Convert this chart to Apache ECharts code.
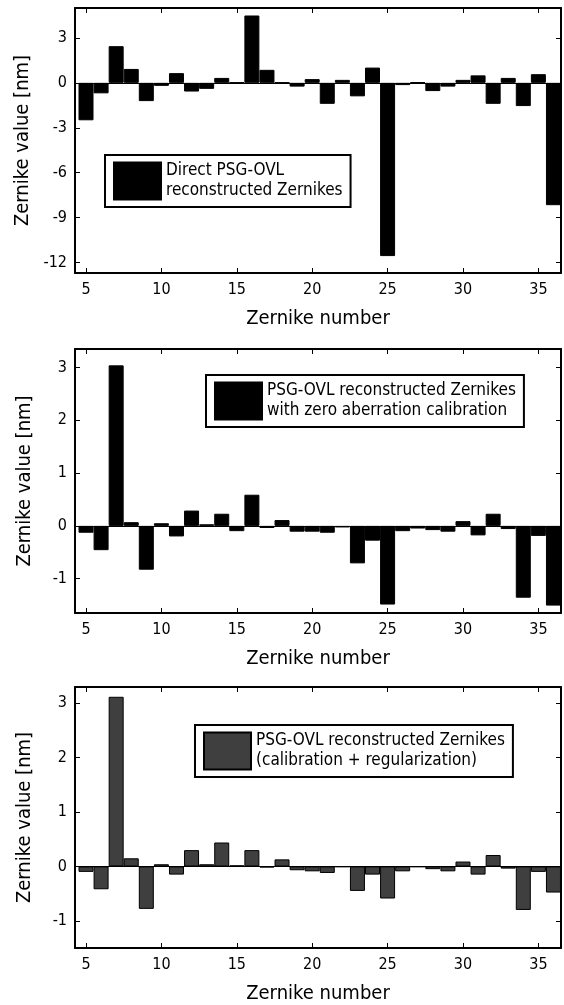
<!DOCTYPE html>
<html>
<head>
	<meta charset="utf-8">
	<script src="https://cdn.jsdelivr.net/npm/echarts@6/dist/echarts.min.js"></script>
	<title>Zernike values</title>
	<style>
		html, body { margin: 0; padding: 0; background: #fff; }
		#main { width: 564px; height: 1005px; }
	</style>
</head>
<body>
	<div id="main"></div>
	<script type="text/javascript">
		// Zernike index on the x axis
		var zernikeNo = [5, 6, 7, 8, 9, 10, 11, 12, 13, 14, 15, 16, 17, 18, 19, 20,
			21, 22, 23, 24, 25, 26, 27, 28, 29, 30, 31, 32, 33, 34, 35, 36];
		var xTicks = [5, 10, 15, 20, 25, 30, 35];

		// top panel: direct reconstruction
		var directVals = [-2.5, -0.7, 2.45, 0.93, -1.22, -0.2, 0.65, -0.58, -0.4, 0.33, 0.02, 4.5,
			0.87, 0.02, -0.25, 0.25, -1.4, 0.2, -0.9, 1.02, -11.57, -0.15, 0.03, -0.55,
			-0.25, 0.2, 0.5, -1.4, 0.33, -1.55, 0.58, -8.17];
		var directTicks = [-12, -9, -6, -3, 0, 3];

		// middle panel: with zero aberration calibration
		var calibVals = [-0.13, -0.46, 3.04, 0.07, -0.83, 0.05, -0.2, 0.29, 0.03, 0.23, -0.1, 0.59,
			-0.04, 0.11, -0.11, -0.11, -0.13, -0.03, -0.71, -0.28, -1.49, -0.1, -0.05, -0.08,
			-0.11, 0.09, -0.18, 0.23, -0.06, -1.36, -0.19, -1.51];
		var calibTicks = [-1, 0, 1, 2, 3];

		// bottom panel: calibration + regularization
		var regVals = [-0.1, -0.42, 3.12, 0.15, -0.78, 0.04, -0.15, 0.3, 0.04, 0.44, 0.02, 0.3,
			-0.02, 0.13, -0.07, -0.09, -0.12, -0.01, -0.45, -0.15, -0.59, -0.09, -0.01, -0.05,
			-0.09, 0.09, -0.15, 0.21, -0.04, -0.8, -0.1, -0.48];
		var regTicks = [-1, 0, 1, 2, 3];

		var legendNames = [
			'Direct PSG-OVL\nreconstructed Zernikes',
			'PSG-OVL reconstructed Zernikes\nwith zero aberration calibration',
			'PSG-OVL reconstructed Zernikes\n(calibration + regularization)'
		];

		var FONT = "'DejaVu Sans Condensed', 'DejaVu Sans', sans-serif";

		var panels = [
			{ vals: directVals, ticks: directTicks, ymin: -12.7, ymax: 5, top: 8, height: 265,
			  fill: '#000', legend: { left: 105, top: 155 } },
			{ vals: calibVals, ticks: calibTicks, ymin: -1.65, ymax: 3.35, top: 349, height: 264,
			  fill: '#000', legend: { left: 206, top: 375 } },
			{ vals: regVals, ticks: regTicks, ymin: -1.5, ymax: 3.3, top: 687, height: 265,
			  fill: '#3f3f3f', legend: { left: 195, top: 725 } }
		];

		var grids = [], xAxes = [], yAxes = [], series = [], legends = [];

		panels.forEach(function (p, i) {
			grids.push({ left: 75, right: 3, top: p.top, height: p.height });

			// bottom x axis
			xAxes.push({
				type: 'value', gridIndex: i, min: 4.27, max: 36.5, position: 'bottom',
				name: 'Zernike number', nameLocation: 'middle', nameGap: 36,
				nameTextStyle: { fontFamily: FONT, fontSize: 20, color: '#000' },
				axisLine: { onZero: false, lineStyle: { color: '#000', width: 2 } },
				axisTick: { inside: true, length: 5, customValues: xTicks, lineStyle: { color: '#000' } },
				axisLabel: { customValues: xTicks, margin: 9, fontFamily: FONT, fontSize: 16, color: '#000' },
				splitLine: { show: false }
			});
			// top x axis (box + mirrored ticks)
			xAxes.push({
				type: 'value', gridIndex: i, min: 4.27, max: 36.5, position: 'top',
				axisLine: { onZero: false, lineStyle: { color: '#000', width: 2 } },
				axisTick: { inside: true, length: 5, customValues: xTicks, lineStyle: { color: '#000' } },
				axisLabel: { show: false },
				splitLine: { show: false }
			});
			// left y axis
			yAxes.push({
				type: 'value', gridIndex: i, min: p.ymin, max: p.ymax, position: 'left',
				name: 'Zernike value [nm]', nameLocation: 'middle', nameGap: 40,
				nameTextStyle: { fontFamily: FONT, fontSize: 20, color: '#000' },
				axisLine: { show: true, onZero: false, lineStyle: { color: '#000', width: 2 } },
				axisTick: { show: true, inside: true, length: 5, customValues: p.ticks, lineStyle: { color: '#000' } },
				axisLabel: { customValues: p.ticks, margin: 8, fontFamily: FONT, fontSize: 16, color: '#000' },
				splitLine: { show: false }
			});
			// right y axis
			yAxes.push({
				type: 'value', gridIndex: i, min: p.ymin, max: p.ymax, position: 'right',
				axisLine: { show: true, onZero: false, lineStyle: { color: '#000', width: 2 } },
				axisTick: { show: true, inside: true, length: 5, customValues: p.ticks, lineStyle: { color: '#000' } },
				axisLabel: { show: false },
				splitLine: { show: false }
			});

			var data = [];
			for (var k = 0; k < zernikeNo.length; k++) data.push([zernikeNo[k], p.vals[k]]);

			series.push({
				name: legendNames[i],
				type: 'bar',
				xAxisIndex: i * 2,
				yAxisIndex: i * 2,
				barWidth: 15,
				itemStyle: { color: p.fill, borderColor: '#000', borderWidth: 1 },
				data: data,
				markLine: {
					silent: true, symbol: 'none',
					label: { show: false },
					lineStyle: { color: '#000', width: 1, type: 'solid' },
					data: [{ yAxis: 0 }]
				}
			});

			legends.push({
				data: [legendNames[i]],
				left: p.legend.left, top: p.legend.top,
				orient: 'vertical',
				icon: 'rect',
				itemWidth: 47, itemHeight: 37,
				padding: [6, 8, 6, 8],
				backgroundColor: '#fff',
				borderColor: '#000', borderWidth: 2, borderRadius: 0,
				selectedMode: false,
				textStyle: { fontFamily: FONT, fontSize: 17, lineHeight: 20, color: '#000' }
			});
		});

		var myChart = echarts.init(document.getElementById('main'));
		myChart.setOption({
			animation: false,
			grid: grids,
			xAxis: xAxes,
			yAxis: yAxes,
			legend: legends,
			series: series
		});
	</script>
</body>
</html>
